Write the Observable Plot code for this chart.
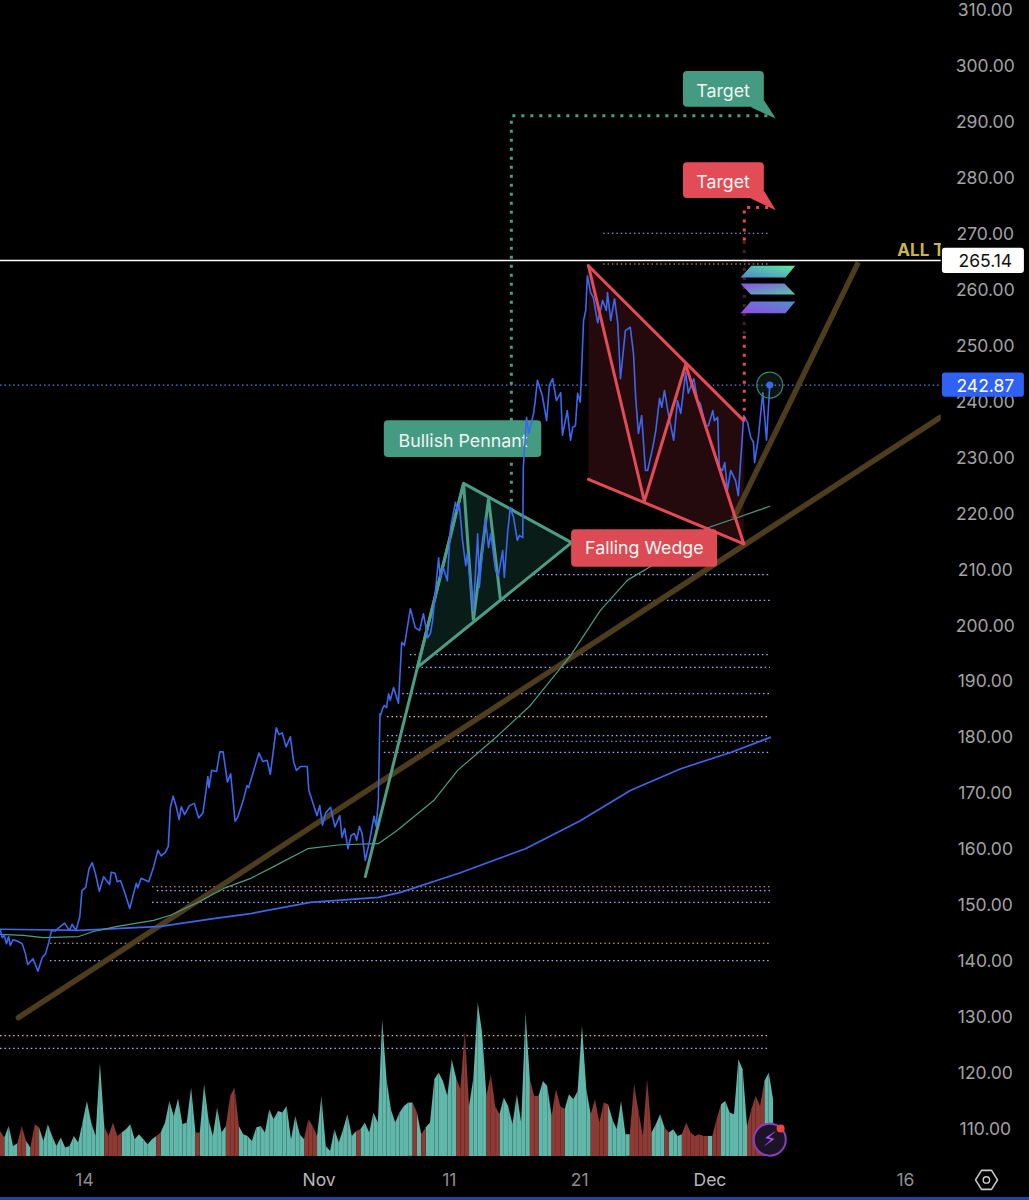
<!DOCTYPE html>
<html><head><meta charset="utf-8">
<script src="https://cdn.jsdelivr.net/npm/d3@7"></script>
<script src="https://cdn.jsdelivr.net/npm/@observablehq/plot@0.6"></script>
<style>html,body{margin:0;padding:0;background:#000}svg{display:block}</style>
</head><body><div id="chart"></div>
<script>
// time = hours since 1 Nov, value = price
const pricePoints=[[-584,145.4],[-581,144.1],[-577,144.5],[-573,143],[-569,144.3],[-566,142.7],[-561,143.7],[-553,143.5],[-544,143],[-538,141.2],[-534,139.3],[-524,140.3],[-515,138.1],[-507,140.6],[-501,141.2],[-495,143.3],[-490,145.4],[-483,145.3],[-475,146],[-466,146.7],[-457,145.4],[-452,146.5],[-445,145.4],[-438,147.8],[-434,152.5],[-427,153.1],[-421,156.4],[-415,157.5],[-409,155.5],[-402,152.4],[-394,155],[-383,153.6],[-380,155.8],[-373,155.6],[-369,154.1],[-363,154.3],[-354,151.8],[-346,149.3],[-334,153.8],[-331,153],[-325,154.7],[-311,154.1],[-303,156.4],[-294,159.7],[-288,158.7],[-280,159.4],[-275,160.4],[-271,167.4],[-266,169.4],[-260,167.4],[-255,165.2],[-251,167.5],[-245,166.1],[-236,167.7],[-227,168.1],[-219,165.5],[-211,166.4],[-202,172.9],[-200,170.9],[-195,174],[-186,173.8],[-180,177.3],[-174,177.3],[-166,171.9],[-160,173.4],[-152,164.9],[-147,165.6],[-137,168.6],[-130,171.3],[-127,170.9],[-108,177.1],[-101,175.6],[-93,175.8],[-87,173.3],[-76,181.6],[-71,180.4],[-65,180.7],[-58,178.2],[-50,180],[-44,175.5],[-39,174],[-31,174.7],[-19,174.7],[-16,170.4],[-10,168.6],[-1,165.9],[4,167.7],[9,164.2],[15,166.4],[24,167.4],[32,163.9],[41,165.9],[45,162],[50,163.6],[56,160],[62,162.4],[68,162.7],[72,161.5],[77,164],[82,162.7],[88,157.9],[96,161.5],[104,165.8],[108,164],[112,168.6],[115,184.1],[116,183.8],[120,185.1],[123,185.6],[127,185.2],[131,187.7],[134,186.5],[140,188.8],[149,186],[155,196.9],[160,196.3],[171,202.9],[180,199.5],[188,199],[195,202],[203,197.7],[208,198.5],[212,200.8],[223,212],[226,208.5],[232,210.1],[239,207.9],[245,217.4],[254,221.9],[258,220.4],[261,221.7],[267,215.1],[273,210.6],[276,212.8],[287,202.6],[295,216.3],[298,206.7],[309,219.2],[315,213.8],[319,216.3],[328,209.7],[333,208.8],[341,213.3],[344,208.5],[350,216.3],[355,221],[361,219.2],[368,215.1],[372,216],[378,215.6],[379,228.1],[385,237.1],[389,234.2],[398,237.8],[401,240.1],[405,243.7],[414,241],[422,236.5],[427,242.8],[433,244],[440,240.1],[448,241.5],[451,233.9],[460,238.3],[466,233],[470,235.3],[475,235.6],[479,241.4],[484,239.8],[490,254.4],[494,256.2],[497,262.4],[503,259.4],[508,258.5],[516,254],[525,258],[532,256.2],[534,259.4],[540,254.4],[547,258.3],[553,253.9],[558,244],[567,252.6],[576,253.2],[582,248.5],[586,240.6],[591,234.2],[597,237.4],[604,227.6],[608,227.6],[617,231.5],[623,234.7],[630,240.5],[634,238.9],[639,241.9],[646,237.8],[656,233],[663,240.1],[669,237.8],[678,245.1],[683,241.4],[689,243.1],[693,244],[700,240.1],[705,239.6],[715,235.6],[720,235.6],[728,238.3],[731,236.5],[737,237.1],[740,228.1],[746,227.6],[750,229],[755,224],[761,227.6],[770,225.8],[775,223.1],[785,237.4],[792,236.2],[798,233.5],[803,232.6],[805,229],[812,233.5],[820,241.5],[827,233],[833,242.87]];
const slowAverage=[[-584,145.6],[-437,145.4],[-289,146.1],[-192,147.5],[-123,148.4],[-13,150.4],[112,151.3],[153,152.2],[263,155.7],[383,160],[484,165],[576,170.4],[669,174.3],[761,177.2],[834,179.9]];
const fastAverage=[[-584,144.7],[-542,144.5],[-505,144.1],[-440,144.3],[-413,145.2],[-369,146.1],[-302,147.2],[-271,148.1],[-216,150.6],[-173,152.9],[-123,154.7],[-81,156.8],[-18,160],[42,160.7],[112,160.9],[147,163.3],[214,168.6],[258,174],[332,180.2],[392,185.6],[466,194.5],[521,202.6],[571,208],[632,211.5],[720,217.4],[774,219.2],[833,221.2]];
const trendOne=[[-551,129.8],[1147,237.1]];
const trendTwo=[[766,219],[996,264.8]];
const pennantLeg=[[88,155],[184,192.4],[269,225.3],[287,200.8],[315,222.6],[337,204.4]];
const pennantShape=[[184,192.4],[269,225.3],[468,214.7]];
const wedgeLeg=[[499,264.2],[602,222.1],[678,246.5],[785,214.5]];
const wedgeTop=[[499,264.2],[785,236.5]];
const wedgeBottom=[[499,226],[785,214.5]];
const wedgeShape=[[499,264.2],[785,236.5],[785,214.5],[499,226]];
const greenTarget=[[357,220.4],[357,291],[834,291]];
const redTargetHigh=[[830,274.6],[786,274.6],[786,268.6]];
const redTargetDim=[[786,268.6],[786,251.7]];
const redTargetLow=[[786,251.7],[786,236.5]];
const blueLevels=[[527,270],[350,209],[296,204.4],[171,194.7],[168,192.4],[157,187.7],[129,180.2],[120,179.2],[123,177.2],[-295,152.5],[-304,150.4],[-492,140],[-584,124.3]];
const amberLevels=[[527,264.5],[129,183.6],[-304,153.2],[-492,143.1],[-584,126.6]];
const volumeTeal=[60,55,90,30,38,30,45,25,60,85,45,95,60,30,55,25,30,60,40,100,165,100,30,280,50,40,100,45,30,80,95,50,65,50,35,50,60,30,100,165,120,172,95,100,205,30,70,215,110,60,145,60,90,110,200,90,65,60,45,85,90,50,140,110,135,50,150,40,120,65,50,50,50,60,180,30,15,80,40,80,125,50,75,80,100,70,130,100,410,230,140,100,130,150,160,125,130,65,70,100,230,250,225,180,290,235,200,300,150,235,460,370,170,245,130,125,175,150,95,185,100,430,200,130,160,225,210,120,200,145,140,185,170,195,390,200,125,100,100,160,155,110,70,165,65,65,60,135,60,175,70,95,125,70,60,80,60,65,50,55,60,60,35,60,60,65,155,165,130,125,290,260,90,70,180,150,100,250,170];
const volumeRed=[75,30,0,0,0,90,0,0,95,0,0,0,0,0,0,25,0,0,0,0,100,0,60,0,90,60,100,60,70,60,0,0,0,0,0,0,0,70,0,0,100,0,90,0,150,70,0,0,0,60,0,70,60,180,205,60,0,0,0,0,40,70,90,0,0,130,60,50,80,0,0,110,90,0,100,0,0,40,0,0,0,60,0,80,0,60,0,0,0,0,0,0,70,0,60,160,0,0,85,0,0,0,0,170,0,200,160,375,140,0,0,0,180,210,150,0,0,0,90,130,0,300,230,180,180,0,0,100,170,150,0,130,0,0,0,0,0,170,0,130,0,0,80,130,0,0,215,110,0,230,60,0,0,85,70,0,0,0,100,70,0,65,60,0,0,110,150,130,0,100,200,150,85,140,150,0,225,150,0];
const logoTop=[[779,262.1],[799,264.2],[880,264.2],[862,262.1]];
const logoMiddle=[[779,261],[860,261],[880,259.05],[798,259.05]];
const logoBottom=[[779,255.7],[798,257.8],[880,257.8],[862,255.7]];
const settingsHex=[[1212,100.8],[1223,102.5],[1241.5,102.5],[1252.5,100.8],[1241.5,99.1],[1223,99.1],[1212,100.8]];
const priceTicks=[310,300,290,280,270,260,250,240,230,220,210,200,190,180,170,160,150,140,130,120,110];
const timeTicks=[-432,0,240,480,720,1080];
const timeLabels=["14","Nov","11","21","Dec","16"];
const boldTicks=["Nov","Dec"];
const lastPrice=242.87, athPrice=265.14;

const xMin=-584,xMax=1311.4,yMin=97.12,yMax=311.6;
const volumeBase=105.0,volumeUnit=0.0596;
const axisLeft=1149, axisText=1230, xLabelY=100.7;
const obj=a=>a.map(([t,v])=>({t,v}));
const poly=(a,fill)=>Plot.line(obj(a),{x:"t",y:"v",fill,stroke:"none"});
const ln=(a,stroke,strokeWidth,extra={})=>Plot.line(obj(a),{x:"t",y:"v",stroke,strokeWidth,...extra});
const dotted={strokeDasharray:"3 6",strokeLinecap:"butt"};
const levelMark=(list,stroke)=>Plot.ruleY(list,{x1:d=>d[0],x2:834,y:d=>d[1],stroke,strokeWidth:1.2,strokeDasharray:"1.5 2.9"});
const box=(t1,t2,v1,v2,fill,extra={})=>Plot.rect([0],{x1:t1,x2:t2,y1:v1,y2:v2,fill,rx:4,...extra});
const label=(t,v,text,extra={})=>Plot.text([text],{x:t,y:v,text:d=>d,fill:"#eef5f2",fontSize:17.8,...extra});

// volume: a slice takes the colour of the taller of its two ends
const volumeBars=volumeTeal.map((t,i)=>{const r=volumeRed[i];return {t:-584+8*i,h:Math.max(t,r),red:r>0&&r>=0.8*t};});
const volumeSlices=[];
volumeBars.slice(0,-1).forEach((b,i)=>{
  const n=volumeBars[i+1],top=b.h>=n.h?b:n;
  volumeSlices.push({seg:i,t:b.t,v:volumeBase+b.h*volumeUnit,red:top.red},{seg:i,t:n.t,v:volumeBase+n.h*volumeUnit,red:top.red});
});
const volumeMark=(isRed,fill)=>Plot.areaY(volumeSlices.filter(d=>d.red===isRed),{x:"t",y1:volumeBase,y2:"v",z:"seg",fill});

const green="#4c9d86",red="#e34c57",blue="#3b68ee";
const chart=Plot.plot({
  width:1029,height:1200,marginTop:0,marginBottom:0,marginLeft:0,marginRight:0,
  style:{background:"#000",fontFamily:"Inter, 'Liberation Sans', sans-serif"},
  x:{type:"linear",domain:[xMin,xMax],axis:null},
  y:{type:"linear",domain:[yMin,yMax],axis:null},
  marks:[
    volumeMark(false,"#60b7aa"),
    volumeMark(true,"#8c3a33"),
    levelMark(amberLevels,"#f0b880"),
    levelMark(blueLevels,"#a0aeff"),
    Plot.ruleY([lastPrice],{x1:xMin,x2:axisLeft,stroke:"#5f7df5",strokeWidth:1.2,strokeDasharray:"1.5 2.9"}),
    poly(wedgeShape,"#240a0c"),
    poly(pennantShape,"#0a1c18"),
    ln(trendOne,"#4d3d1e",5.5,{strokeLinecap:"round"}),
    ln(trendTwo,"#4d3d1e",5.5,{strokeLinecap:"butt"}),
    ln(slowAverage,"#3f66e4",1.7),
    ln(fastAverage,"#4c9d86",1.2),
    ln(greenTarget,green,3,dotted),
    box(123,413,229.9,236.5,"#459a82"),
    label(268,232.8,"Bullish Pennant"),
    ln(pennantLeg,green,3,{strokeLinejoin:"miter"}),
    ln(pennantShape.concat([pennantShape[0]]),green,3),
    ln(pricePoints,blue,1.6),
    ln(wedgeLeg,red,3),
    ln(wedgeTop,red,3),
    ln(wedgeBottom,red,3),
    ln(redTargetHigh,red,3,dotted),
    ln(redTargetDim,"#4a1e24",3,dotted),
    ln(redTargetLow,red,3,dotted),
    Plot.ruleY([athPrice],{x1:xMin,x2:axisLeft,stroke:"#fff",strokeWidth:1.6}),
    Plot.text(["ALL T"],{x:1068,y:266.9,text:d=>d,fill:"#c8b648",fontSize:17,fontWeight:700,textAnchor:"start"}),
    poly(logoTop,"url(#solA)"),
    poly(logoMiddle,"url(#solB)"),
    poly(logoBottom,"url(#solC)"),
    Plot.dot([0],{x:833,y:lastPrice,r:13,stroke:"#3f8270",strokeWidth:1.2,fill:"#4c9d86",fillOpacity:.14}),
    Plot.dot([0],{x:833,y:lastPrice,r:3.5,fill:blue}),
    box(468,737,210.3,217,red,{fillOpacity:.97}),
    label(602,213.7,"Falling Wedge"),
    poly([[823,293.7],[844,290.5],[798,292.5]],"#459a82"),
    box(674,823,292.5,298.9,"#459a82"),
    label(747,295.4,"Target"),
    poly([[823,277.5],[844,274.1],[798,276.2]],red),
    box(674,823,276.2,282.6,red),
    label(747,279.05,"Target"),
    Plot.rect([0],{x1:axisLeft,x2:xMax,y1:yMin,y2:yMax,fill:"#000"}),
    Plot.text(priceTicks,{x:axisText,y:d=>d,dy:1,text:d=>d.toFixed(2),fill:"#a3a3a3",fontSize:17.5}),
    box(1151,1302,262.8,267.3,"#fff",{rx:3}),
    Plot.text([athPrice],{x:axisText,y:athPrice,dy:1,text:d=>d.toFixed(2),fill:"#111",fontSize:17.5}),
    box(1151,1302,240.7,245,"#2f62f2",{rx:3}),
    Plot.text([lastPrice],{x:axisText,y:lastPrice,dy:1,text:d=>d.toFixed(2),fill:"#fff",fontSize:17.5}),
    Plot.text(timeTicks,{x:d=>d,y:xLabelY,dx:1.5,text:(d,i)=>timeLabels[i],fill:(d,i)=>boldTicks.includes(timeLabels[i])?"#b8b8b8":"#8d8d8d",fontWeight:(d,i)=>boldTicks.includes(timeLabels[i])?700:400,fontSize:17.5}),
    ln(settingsHex,"#c8c8c8",1.6),
    Plot.dot([0],{x:1232,y:100.8,r:3.2,stroke:"#c8c8c8",strokeWidth:1.4,fill:"none"}),
    Plot.dot([0],{x:833,y:108,r:16,fill:"#1c1426",stroke:"#8a3fc0",strokeWidth:2}),
    Plot.text(["\u26A1\uFE0E"],{x:833,y:108,text:d=>d,fill:"#a855e8",fontSize:20,fontFamily:"DejaVu Sans"}),
    Plot.dot([0],{x:853,y:110,r:4,fill:"#e8473f"}),
    Plot.rect([0],{x1:xMin,x2:xMax,y1:yMin,y2:97.66,fill:"#2244a8"})
  ]
});
const defs=d3.select(chart).insert("defs",":first-child");
[["solA","0%","100%","100%","0%","#4f86cf","#5fe89a"],["solB","0%","0%","100%","100%","#8a4fe8","#58c8a4"],["solC","0%","100%","100%","0%","#9a45e8","#4a94c8"]].forEach(([id,x1,y1,x2,y2,a,b])=>{
  const g=defs.append("linearGradient").attr("id",id).attr("x1",x1).attr("y1",y1).attr("x2",x2).attr("y2",y2);
  g.append("stop").attr("offset","0%").attr("stop-color",a);
  g.append("stop").attr("offset","100%").attr("stop-color",b);
});
document.getElementById("chart").append(chart);
</script>
</body></html>
